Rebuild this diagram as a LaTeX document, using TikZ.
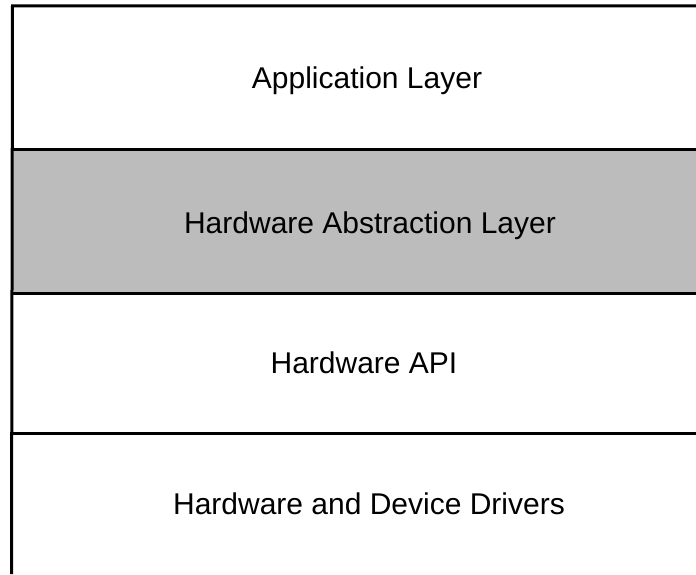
\documentclass[tikz,border=0pt]{standalone}
\usepackage{fontspec}
\setmainfont{Liberation Sans}
\definecolor{halgray}{RGB}{188,188,188}
\begin{document}
\begin{tikzpicture}[x=1pt,y=1pt,
  rule/.style={line width=3pt,black},
  layertext/.style={anchor=base,inner sep=0pt,font=\fontsize{30}{36}\selectfont}]
\useasboundingbox (0,0) rectangle (696,574);
% shaded abstraction band
\fill[halgray] (12,422.5) rectangle (696,282);
% frame and layer separators
\coordinate (tl) at (12.5,568);
\coordinate (bl) at (11.5,0);
\coordinate (tr) at (696,568);
\draw[rule] (tr) -- (tl) -- (bl);
\draw[rule] (12,424) -- (696,424);
\draw[rule] (12,281) -- (696,281);
\draw[rule] (12,141) -- (696,141);
% layer labels
\node[layertext] (app) at (367,485) {Application Layer};
\node[layertext] (hal) at (370,341) {Hardware Abstraction Layer};
\node[layertext] (api) at (364,201) {Hardware API};
\node[layertext] (drv) at (369,60) {Hardware and Device Drivers};
\end{tikzpicture}
\end{document}
